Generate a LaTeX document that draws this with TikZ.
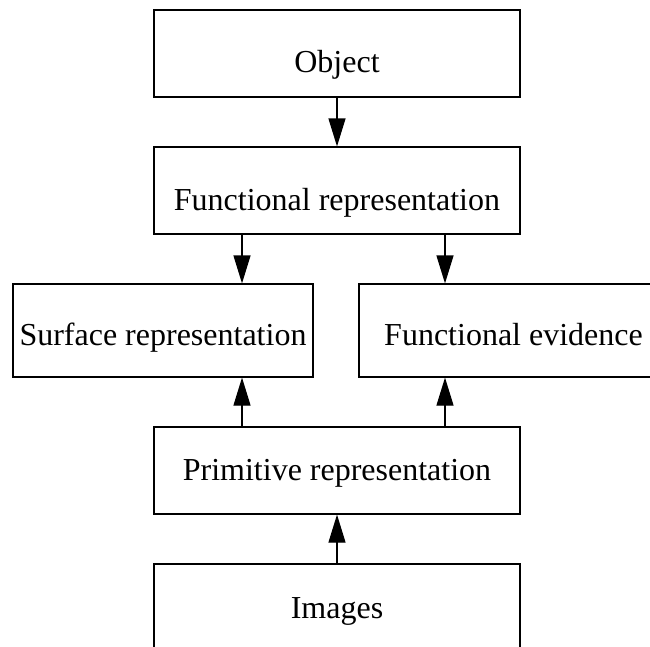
\documentclass[tikz,border=0pt]{standalone}
\usepackage{fontspec}
\setmainfont{Liberation Serif}
\usetikzlibrary{arrows.meta}
\begin{document}
\begin{tikzpicture}[x=1pt,y=-1pt,
  bx/.style={draw, line width=1.2pt, inner sep=0pt, minimum width=366pt, minimum height=87pt,
    font=\fontsize{32}{38}\selectfont, text depth=0pt, text height=#1},
  arr/.style={line width=1.2pt, -{Triangle[length=28pt,width=17pt]}}]
\useasboundingbox (0,0) rectangle (650,646);
\clip (0,0) rectangle (650,646);
\node[bx=37pt] (obj) at (337,53.5) {Object};
\node[bx=39pt] (fun) at (337,190.5) {Functional representation};
\node[bx=29pt, minimum width=300pt, minimum height=93pt] (sur) at (163,330.5) {Surface representation};
\node[bx=29pt, minimum width=309pt, minimum height=93pt] (fev) at (513.5,330.5) {Functional evidence};
\node[bx=19pt] (pri) at (337,470.5) {Primitive representation};
\node[bx=21pt] (img) at (337,607.5) {Images};
\coordinate (la) at (242,0);
\coordinate (ra) at (445,0);
\draw[arr] (obj.south) -- (fun.north);
\draw[arr] (fun.south -| la) -- (sur.north -| la);
\draw[arr] (fun.south -| ra) -- (fev.north -| ra);
\draw[arr] (pri.north -| la) -- (sur.south -| la);
\draw[arr] (pri.north -| ra) -- (fev.south -| ra);
\draw[arr] (img.north) -- (pri.south);
\end{tikzpicture}
\end{document}
